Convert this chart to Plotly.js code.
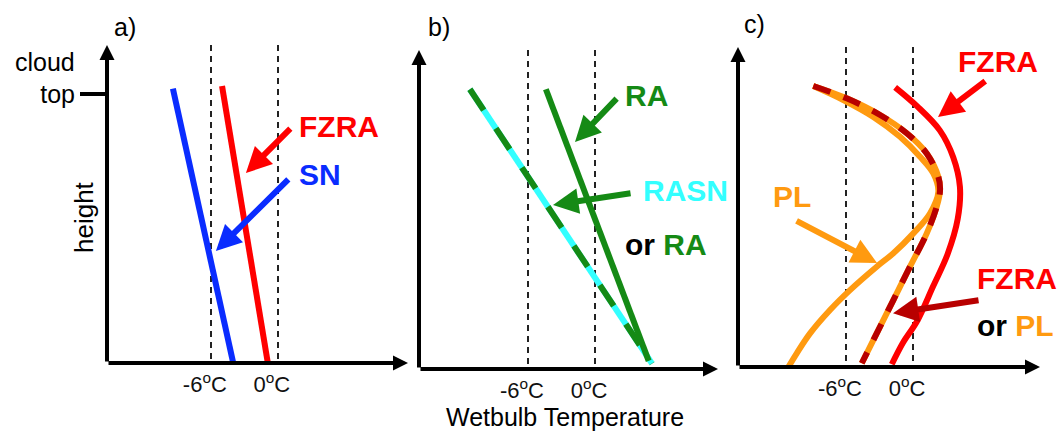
<!DOCTYPE html>
<html>
<head>
<meta charset="utf-8">
<script src="https://cdn.plot.ly/plotly-3.0.1.min.js"></script>
<style>html,body{margin:0;padding:0;background:#fff;}#chart{width:1060px;height:433px;}</style>
</head>
<body>
<div id="chart"></div>
<script>
// ---------- data (temperature in degC, height as fraction of cloud top) ----------
const tickVals = [-6, 0];
const tickText = ['-6<sup>o</sup>C', '0<sup>o</sup>C'];

// panel a
const aSnTemp = [-9.4, -4.0];
const aSnHeight = [1.02, 0.0];
const aFzraTemp = [-5.0, -0.9];
const aFzraHeight = [1.03, 0.0];

// panel b
const bRasnTemp = [-11.2, 5.1];
const bRasnHeight = [1.04, 0.02];
const bRaTemp = [-4.4, 4.8];
const bRaHeight = [1.04, 0.03];

// panel c
const cFzraTemp = [-1.6, 0.36, 2.4, 3.6, 4.2, 4.0, 3.1, 1.8, 0.36, -0.9, -1.9];
const cFzraHeight = [1.04, 0.97, 0.88, 0.78, 0.67, 0.55, 0.42, 0.30, 0.17, 0.09, 0.01];
const cMixTemp = [-8.93, -5.94, -2.95, -0.56, 1.23, 2.27, 2.42, 2.12, 1.23, -0.27, -1.76, -3.25, -4.59];
const cMixHeight = [1.045, 0.999, 0.937, 0.869, 0.794, 0.707, 0.658, 0.596, 0.497, 0.373, 0.249, 0.125, 0.014];
const cPlTemp = [-8.93, -6.24, -3.55, -1.16, 0.63, 1.82, 2.27, 1.52, 0.03, -1.76, -3.25, -5.64, -7.43, -9.22, -10.41, -11.16];
const cPlHeight = [1.045, 0.993, 0.93, 0.856, 0.782, 0.72, 0.652, 0.571, 0.497, 0.423, 0.373, 0.286, 0.212, 0.125, 0.051, 0.0];

// ---------- layout geometry ----------
const W = 1060, H = 433;
const panels = [
  {left: 107, right: 408, bottom: 363, top: 45, xr: [-15.3, 11.65], yr: [0, 1.182]},
  {left: 419, right: 718, bottom: 369, top: 50, xr: [-15.75, 11.0], yr: [0, 1.186]},
  {left: 738, right: 1040, bottom: 367, top: 47, xr: [-15.67, 11.37], yr: [0, 1.19]}
];
const FONT = 'Liberation Sans, Arial, sans-serif';
const RED = '#ff0000', BLUE = '#0a2cff', GREEN = '#158a15', CYAN = '#33ffff',
      ORANGE = '#ff9a10', DARKRED = '#b80000';

function line(xa, ya, x, y, color, width, dash, spline) {
  return {type: 'scatter', mode: 'lines', x: x, y: y, xaxis: xa, yaxis: ya,
    line: {color: color, width: width, dash: dash || 'solid', shape: spline ? 'spline' : 'linear', smoothing: 1},
    hoverinfo: 'skip', showlegend: false};
}

const traces = [
  line('x', 'y', aSnTemp, aSnHeight, BLUE, 6),
  line('x', 'y', aFzraTemp, aFzraHeight, RED, 6),
  line('x2', 'y2', bRasnTemp, bRasnHeight, CYAN, 6),
  line('x2', 'y2', bRasnTemp, bRasnHeight, GREEN, 6, '25px,22px'),
  line('x2', 'y2', bRaTemp, bRaHeight, GREEN, 6),
  line('x3', 'y3', cFzraTemp, cFzraHeight, RED, 6, null, true),
  line('x3', 'y3', cPlTemp, cPlHeight, ORANGE, 6, null, true),
  line('x3', 'y3', cMixTemp, cMixHeight, ORANGE, 6, null, true),
  line('x3', 'y3', cMixTemp, cMixHeight, DARKRED, 6, '18px,14px', true)
];

const layout = {
  width: W, height: H,
  margin: {l: 0, r: 0, t: 0, b: 0},
  paper_bgcolor: '#fff', plot_bgcolor: 'rgba(0,0,0,0)',
  font: {family: FONT, color: '#000'},
  showlegend: false,
  annotations: []
};

panels.forEach((p, i) => {
  const s = i === 0 ? '' : String(i + 1);
  layout['xaxis' + s] = {
    domain: [p.left / W, p.right / W], range: p.xr, anchor: 'y' + s,
    showline: false, zeroline: false, showgrid: true,
    gridcolor: '#222', gridwidth: 2, griddash: '6px,5px',
    tickmode: 'array', tickvals: tickVals, ticktext: tickText,
    ticks: '', ticklabelstandoff: 6, ticklabelshift: -6,
    tickfont: {family: FONT, size: 22, color: '#111'}, fixedrange: true
  };
  layout['yaxis' + s] = {
    domain: [1 - p.bottom / H, 1 - p.top / H], range: p.yr, anchor: 'x' + s,
    showline: false, zeroline: false, showgrid: false,
    showticklabels: i === 0,
    tickmode: 'array', tickvals: i === 0 ? [1] : [], ticktext: ['top'],
    ticks: i === 0 ? 'outside' : '', ticklen: 26, tickwidth: 4, tickcolor: '#000',
    tickfont: {family: FONT, size: 25, color: '#000'}, fixedrange: true
  };
  // axes with arrowheads
  const ax = {xref: 'x' + s, yref: 'y' + s, axref: 'x' + s, ayref: 'y' + s, text: '',
    showarrow: true, arrowhead: 2, arrowwidth: 4, arrowsize: 0.75, arrowcolor: '#000', standoff: 0};
  layout.annotations.push(Object.assign({}, ax, {x: p.xr[1], y: 0, ax: p.xr[0], ay: 0}));
  layout.annotations.push(Object.assign({}, ax, {x: p.xr[0], y: p.yr[1], ax: p.xr[0], ay: 0}));
});

function arrow(s, tailT, tailH, headT, headH, color) {
  layout.annotations.push({xref: 'x' + s, yref: 'y' + s, axref: 'x' + s, ayref: 'y' + s,
    x: headT, y: headH, ax: tailT, ay: tailH, text: '', showarrow: true,
    arrowhead: 2, arrowwidth: 6, arrowsize: 0.85, arrowcolor: color, standoff: 0});
}
arrow('', 1.25, 0.877, -2.86, 0.706, RED);
arrow('', 1.07, 0.688, -5.55, 0.416, BLUE);
arrow('2', 2.06, 1.011, -1.79, 0.844, GREEN);
arrow('2', 3.31, 0.654, -3.76, 0.61, GREEN);
arrow('3', 6.6, 1.067, 2.24, 0.93, RED);
arrow('3', -10.56, 0.546, -3.22, 0.387, ORANGE);
arrow('3', 6.0, 0.249, -1.79, 0.2, DARKRED);

function label(px, py, text, size, color, bold, anchor, angle) {
  layout.annotations.push({xref: 'paper', yref: 'paper', x: px / W, y: 1 - py / H,
    xanchor: anchor || 'left', yanchor: 'middle', showarrow: false, textangle: angle || 0,
    text: bold ? '<b>' + text + '</b>' : text,
    font: {family: FONT, size: size, color: color}});
}
label(125, 27, 'a)', 25, '#000', false, 'center');
label(439, 27, 'b)', 25, '#000', false, 'center');
label(754, 24, 'c)', 25, '#000', false, 'center');
label(45, 62, 'cloud', 25, '#000', false, 'center');
label(84, 217, 'height', 26, '#000', false, 'center', -90);
label(565, 417, 'Wetbulb Temperature', 25, '#000', false, 'center');

label(297, 127, 'FZRA', 30, RED, true);
label(297, 175, 'SN', 30, BLUE, true);
label(623, 96, 'RA', 30, GREEN, true);
label(641, 190, 'RASN', 30, CYAN, true);
label(623, 244, 'or <span style="color:' + GREEN + '">RA</span>', 30, '#000', true);
label(956, 62, 'FZRA', 30, RED, true);
label(771, 196, 'PL', 30, ORANGE, true);
label(975, 278, 'FZRA', 30, RED, true);
label(975, 325, 'or <span style="color:' + ORANGE + '">PL</span>', 30, '#000', true);

Plotly.newPlot('chart', traces, layout, {staticPlot: true, displayModeBar: false});
</script>
</body>
</html>
